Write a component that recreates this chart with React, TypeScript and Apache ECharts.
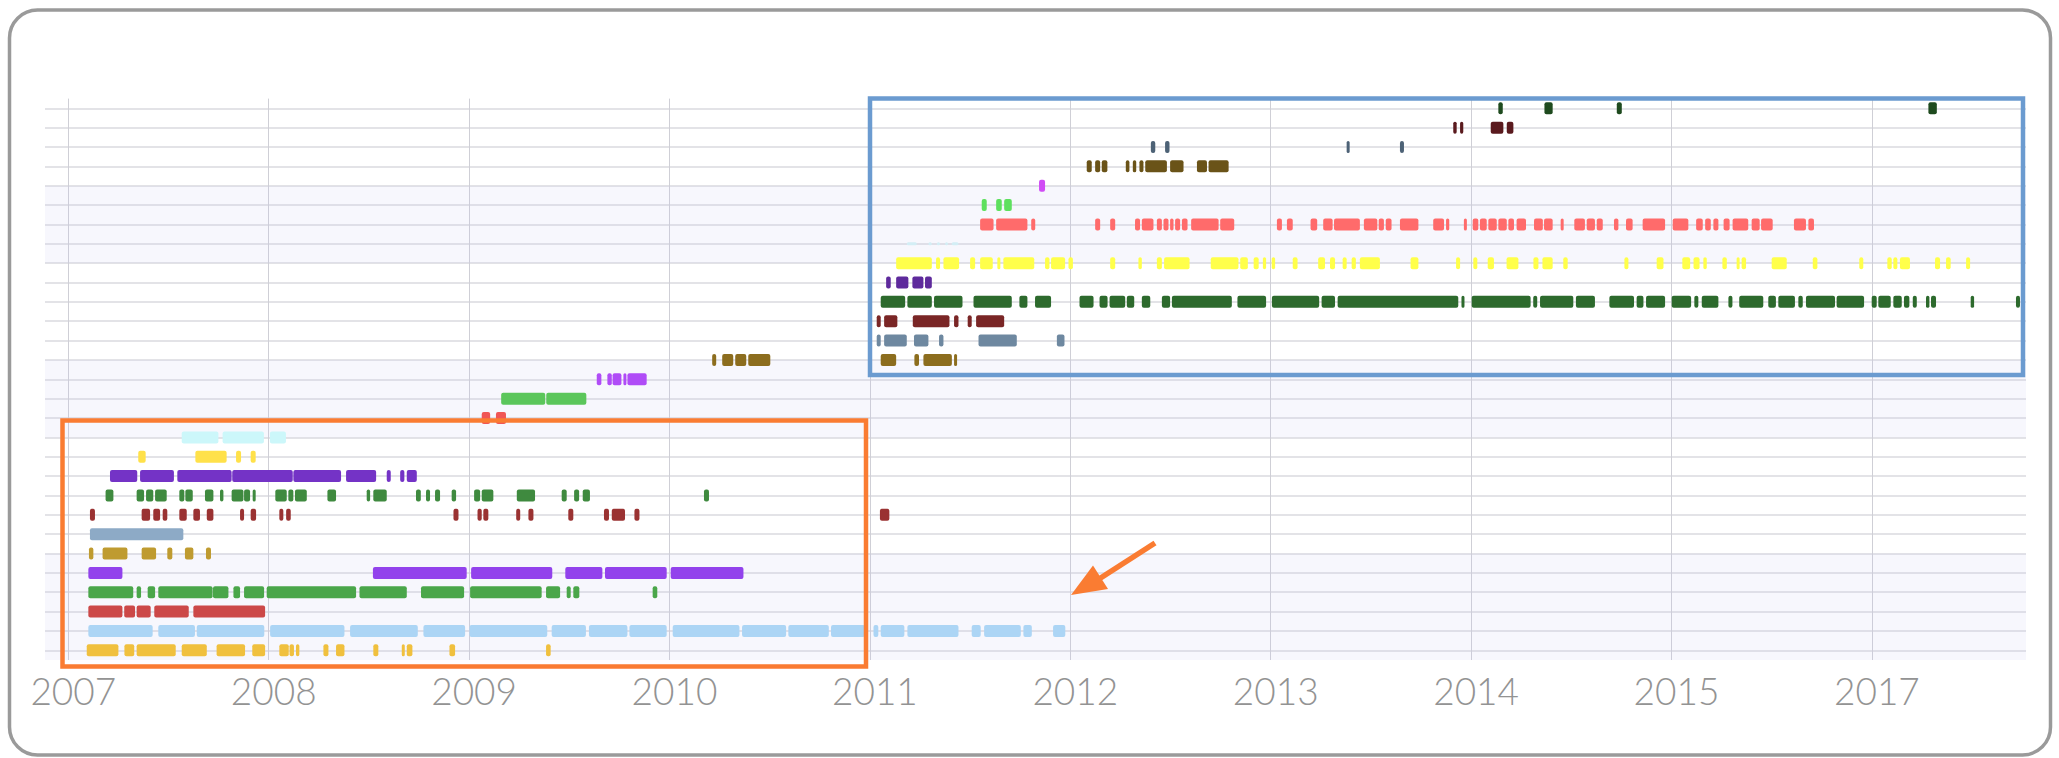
import React, { useEffect, useRef } from "react";
import * as echarts from "echarts";

// ---- axis ----
const tickYears = [2007, 2008, 2009, 2010, 2011, 2012, 2013, 2014, 2015, 2016];
const tickLabels = ["2007", "2008", "2009", "2010", "2011", "2012", "2013", "2014", "2015", "2017"];
const rowIndex = Array.from({ length: 29 }, (_, i) => i);

// ---- row colours (row 0 = top) ----
const rowColors = [
  "#1e4a1e", "#5a1a1e", "#4d6276", "#6a5318", "#d04cf5", "#5ee05e", "#ff6b6b", "#d3eef5",
  "#ffff4a", "#5e2a9c", "#2d6a2d", "#7a2626", "#6e88a0", "#8c6d1e", "#b04cf7", "#5bc65b",
  "#f05656", "#ccf7fa", "#ffe14a", "#7433c6", "#3f8a3f", "#9a3232", "#8daac6", "#bf9b30",
  "#9242ec", "#4aa64a", "#cc4848", "#acd5f5", "#f0c03e",
];

// ---- activity segments [start, end] in years, one list per row ----
const row00 = [[2014.136, 2014.158], [2014.366, 2014.407], [2014.727, 2014.752], [2016.282, 2016.324]];
const row01 = [[2013.911, 2013.928], [2013.945, 2013.961], [2014.098, 2014.161], [2014.178, 2014.211]];
const row02 = [[2012.402, 2012.424], [2012.473, 2012.495], [2013.379, 2013.391], [2013.645, 2013.665]];
const row03 = [[2012.082, 2012.107], [2012.124, 2012.149], [2012.157, 2012.185], [2012.277, 2012.295], [2012.312, 2012.329], [2012.345, 2012.365], [2012.374, 2012.482], [2012.498, 2012.565], [2012.632, 2012.682], [2012.69, 2012.79]];
const row04 = [[2011.844, 2011.874]];
const row05 = [[2011.558, 2011.583], [2011.63, 2011.658], [2011.67, 2011.708]];
const row06 = [
  [2011.55, 2011.617], [2011.63, 2011.786], [2011.805, 2011.825], [2012.124, 2012.149], [2012.199, 2012.224],
  [2012.323, 2012.348], [2012.357, 2012.415], [2012.432, 2012.457], [2012.465, 2012.49], [2012.498, 2012.515],
  [2012.523, 2012.548], [2012.557, 2012.585], [2012.603, 2012.74], [2012.748, 2012.818], [2013.031, 2013.056],
  [2013.081, 2013.11], [2013.199, 2013.232], [2013.262, 2013.309], [2013.316, 2013.445], [2013.465, 2013.532],
  [2013.539, 2013.565], [2013.574, 2013.603], [2013.645, 2013.737], [2013.811, 2013.865], [2013.875, 2013.891],
  [2013.964, 2013.978], [2014.008, 2014.036], [2014.044, 2014.078], [2014.086, 2014.128], [2014.136, 2014.178],
  [2014.186, 2014.214], [2014.227, 2014.274], [2014.314, 2014.358], [2014.364, 2014.407], [2014.447, 2014.46],
  [2014.515, 2014.568], [2014.577, 2014.618], [2014.627, 2014.657], [2014.713, 2014.735], [2014.773, 2014.806],
  [2014.856, 2014.968], [2015.006, 2015.084], [2015.123, 2015.156], [2015.168, 2015.196], [2015.209, 2015.234],
  [2015.26, 2015.29], [2015.305, 2015.383], [2015.4, 2015.44], [2015.447, 2015.505], [2015.611, 2015.671],
  [2015.683, 2015.711],
];
const row07 = [[2011.184, 2011.234], [2011.292, 2011.309], [2011.334, 2011.35], [2011.375, 2011.387], [2011.408, 2011.442]];
const row08 = [
  [2011.131, 2011.309], [2011.33, 2011.35], [2011.367, 2011.445], [2011.5, 2011.525], [2011.55, 2011.613],
  [2011.636, 2011.65], [2011.666, 2011.82], [2011.874, 2011.896], [2011.904, 2011.974], [2011.991, 2012.013],
  [2012.199, 2012.224], [2012.34, 2012.357], [2012.432, 2012.457], [2012.468, 2012.595], [2012.701, 2012.839],
  [2012.848, 2012.886], [2012.915, 2012.94], [2012.961, 2012.977], [2013.005, 2013.022], [2013.11, 2013.134],
  [2013.237, 2013.271], [2013.296, 2013.321], [2013.359, 2013.379], [2013.404, 2013.425], [2013.445, 2013.545],
  [2013.698, 2013.737], [2013.925, 2013.945], [2014.011, 2014.031], [2014.083, 2014.114], [2014.177, 2014.236],
  [2014.311, 2014.336], [2014.356, 2014.407], [2014.46, 2014.482], [2014.765, 2014.785], [2014.926, 2014.96],
  [2015.054, 2015.093], [2015.11, 2015.14], [2015.159, 2015.176], [2015.254, 2015.276], [2015.325, 2015.338],
  [2015.35, 2015.372], [2015.5, 2015.575], [2015.705, 2015.728], [2015.937, 2015.957], [2016.077, 2016.099],
  [2016.107, 2016.127], [2016.14, 2016.19], [2016.315, 2016.34], [2016.37, 2016.393], [2016.47, 2016.49],
];
const row09 = [[2011.081, 2011.104], [2011.131, 2011.192], [2011.212, 2011.267], [2011.275, 2011.309]];
const row10 = [
  [2011.054, 2011.176], [2011.187, 2011.309], [2011.32, 2011.462], [2011.517, 2011.708], [2011.746, 2011.786],
  [2011.824, 2011.904], [2012.046, 2012.116], [2012.146, 2012.186], [2012.196, 2012.274], [2012.282, 2012.319],
  [2012.357, 2012.399], [2012.457, 2012.498], [2012.507, 2012.806], [2012.834, 2012.977], [2013.006, 2013.242],
  [2013.254, 2013.321], [2013.334, 2013.936], [2013.952, 2013.961], [2014.003, 2014.297], [2014.31, 2014.33],
  [2014.344, 2014.51], [2014.523, 2014.618], [2014.69, 2014.813], [2014.826, 2014.86], [2014.873, 2014.968],
  [2015.001, 2015.098], [2015.114, 2015.134], [2015.151, 2015.234], [2015.284, 2015.304], [2015.338, 2015.458],
  [2015.483, 2015.521], [2015.533, 2015.616], [2015.633, 2015.655], [2015.671, 2015.816], [2015.824, 2015.961],
  [2015.999, 2016.024], [2016.032, 2016.094], [2016.107, 2016.149], [2016.16, 2016.187], [2016.204, 2016.224],
  [2016.27, 2016.287], [2016.295, 2016.32], [2016.493, 2016.51], [2016.719, 2016.739],
];
const row11 = [[2011.034, 2011.054], [2011.071, 2011.137], [2011.214, 2011.397], [2011.42, 2011.442], [2011.488, 2011.508], [2011.53, 2011.67]];
const row12 = [[2011.034, 2011.054], [2011.071, 2011.184], [2011.22, 2011.292], [2011.345, 2011.367], [2011.542, 2011.733], [2011.933, 2011.971]];
const row13 = [[2010.213, 2010.233], [2010.263, 2010.318], [2010.328, 2010.383], [2010.393, 2010.503], [2011.054, 2011.131], [2011.222, 2011.245], [2011.267, 2011.409], [2011.42, 2011.434]];
const row14 = [[2009.637, 2009.66], [2009.69, 2009.712], [2009.716, 2009.76], [2009.77, 2009.785], [2009.79, 2009.886]];
const row15 = [[2009.16, 2009.38], [2009.385, 2009.585]];
const row16 = [[2009.063, 2009.105], [2009.134, 2009.184]];
const row17 = [[2007.566, 2007.749], [2007.77, 2007.976], [2008.006, 2008.086]];
const row18 = [[2007.349, 2007.386], [2007.634, 2007.79], [2007.837, 2007.862], [2007.91, 2007.935]];
const row19 = [[2007.208, 2007.344], [2007.358, 2007.527], [2007.544, 2007.815], [2007.818, 2008.12], [2008.123, 2008.361], [2008.386, 2008.536], [2008.589, 2008.609], [2008.656, 2008.677], [2008.689, 2008.739]];
const row20 = [
  [2007.186, 2007.225], [2007.341, 2007.378], [2007.388, 2007.424], [2007.433, 2007.491], [2007.554, 2007.579],
  [2007.584, 2007.621], [2007.682, 2007.724], [2007.757, 2007.774], [2007.815, 2007.874], [2007.877, 2007.907],
  [2007.92, 2007.935], [2008.033, 2008.09], [2008.098, 2008.123], [2008.131, 2008.19], [2008.293, 2008.336],
  [2008.489, 2008.506], [2008.522, 2008.589], [2008.735, 2008.759], [2008.785, 2008.805], [2008.83, 2008.855],
  [2008.913, 2008.935], [2009.025, 2009.055], [2009.063, 2009.121], [2009.238, 2009.329], [2009.462, 2009.487],
  [2009.524, 2009.549], [2009.567, 2009.603], [2010.172, 2010.197],
];
const row21 = [
  [2007.108, 2007.133], [2007.366, 2007.408], [2007.424, 2007.458], [2007.471, 2007.494], [2007.554, 2007.591],
  [2007.624, 2007.657], [2007.691, 2007.724], [2007.857, 2007.877], [2007.91, 2007.937], [2008.053, 2008.073],
  [2008.087, 2008.11], [2008.922, 2008.947], [2009.042, 2009.063], [2009.071, 2009.096], [2009.235, 2009.255],
  [2009.296, 2009.321], [2009.495, 2009.52], [2009.673, 2009.698], [2009.712, 2009.778], [2009.825, 2009.85],
  [2011.05, 2011.097],
];
const row22 = [[2007.108, 2007.574]];
const row23 = [[2007.103, 2007.125], [2007.171, 2007.295], [2007.366, 2007.438], [2007.494, 2007.519], [2007.582, 2007.624], [2007.687, 2007.712]];
const row24 = [[2007.1, 2007.27], [2008.52, 2008.988], [2009.01, 2009.415], [2009.48, 2009.665], [2009.678, 2009.986], [2010.006, 2010.369]];
const row25 = [
  [2007.1, 2007.324], [2007.341, 2007.363], [2007.396, 2007.433], [2007.449, 2007.72], [2007.722, 2007.799],
  [2007.824, 2007.857], [2007.877, 2007.977], [2007.99, 2008.436], [2008.453, 2008.689], [2008.76, 2008.975],
  [2009.005, 2009.362], [2009.384, 2009.454], [2009.487, 2009.507], [2009.52, 2009.55], [2009.916, 2009.939],
];
const row26 = [[2007.1, 2007.27], [2007.279, 2007.333], [2007.341, 2007.411], [2007.429, 2007.601], [2007.624, 2007.982]];
const row27 = [
  [2007.1, 2007.421], [2007.449, 2007.632], [2007.641, 2007.978], [2008.007, 2008.378], [2008.406, 2008.744],
  [2008.772, 2008.98], [2009.002, 2009.39], [2009.412, 2009.583], [2009.598, 2009.79], [2009.8, 2009.986],
  [2010.016, 2010.349], [2010.362, 2010.582], [2010.593, 2010.795], [2010.806, 2010.976], [2011.018, 2011.042],
  [2011.054, 2011.172], [2011.187, 2011.442], [2011.508, 2011.553], [2011.57, 2011.753], [2011.766, 2011.808],
  [2011.914, 2011.975],
];
const row28 = [
  [2007.092, 2007.25], [2007.28, 2007.329], [2007.341, 2007.536], [2007.566, 2007.691], [2007.74, 2007.882],
  [2007.918, 2007.982], [2008.053, 2008.1], [2008.104, 2008.126], [2008.136, 2008.153], [2008.273, 2008.298],
  [2008.336, 2008.378], [2008.522, 2008.547], [2008.664, 2008.676], [2008.689, 2008.717], [2008.902, 2008.93],
  [2009.384, 2009.407],
];

const rows = [
  row00, row01, row02, row03, row04, row05, row06, row07, row08, row09, row10, row11, row12, row13, row14,
  row15, row16, row17, row18, row19, row20, row21, row22, row23, row24, row25, row26, row27, row28,
];

// tinted background bands (row index ranges)
const bands = [[4, 8], [13, 17], [23, 28.5]];

export default function App() {
  const ref = useRef<HTMLDivElement>(null);
  useEffect(() => {
    if (!ref.current) return;
    const chart = echarts.init(ref.current, null, { renderer: "svg" });
    const data: number[][] = [];
    rows.forEach((segs, r) => segs.forEach(([s, e]) => data.push([s, e, r])));

    chart.setOption({
      animation: false,
      backgroundColor: "#ffffff",
      grid: { left: 45, right: 33, top: 98.6, bottom: 98 },
      xAxis: {
        type: "value",
        min: 2006.8837,
        max: 2016.769,
        axisLine: { show: false },
        axisTick: { show: false, customValues: tickYears },
        splitLine: { show: true, lineStyle: { color: "#cfcfd6", width: 1 } },
        axisLabel: {
          customValues: tickYears,
          formatter: (v: number) => tickLabels[tickYears.indexOf(Math.round(v))] ?? "",
          color: "#939393",
          fontSize: 37,
          fontFamily: "Lato, 'Liberation Sans', sans-serif",
          fontWeight: 300,
          margin: 12,
          padding: [0, 0, 0, 10],
        },
      },
      yAxis: {
        type: "value",
        inverse: true,
        min: -0.5,
        max: 28.5,
        axisLine: { show: false },
        axisTick: { show: false, customValues: rowIndex },
        axisLabel: { show: false, customValues: rowIndex },
        splitLine: { show: true, lineStyle: { color: "#dadadf", width: 1.5 } },
      },
      series: [
        {
          type: "custom",
          z: 5,
          data,
          encode: { x: [0, 1], y: 2 },
          renderItem: (params: any, api: any) => {
            const s = api.value(0);
            const e = api.value(1);
            const r = api.value(2);
            const p0 = api.coord([s, r]);
            const p1 = api.coord([e, r]);
            const h = r === 7 ? 3 : 12;
            return {
              type: "rect",
              shape: { x: p0[0], y: p0[1] - h / 2, width: Math.max(p1[0] - p0[0], 3), height: h, r: 2 },
              style: { fill: rowColors[r] },
            };
          },
          markArea: {
            silent: true,
            itemStyle: { color: "rgba(200,200,240,0.14)" },
            data: bands.map(([a, b]) => [{ yAxis: a }, { yAxis: b }]),
          },
        },
      ],
      graphic: [
        {
          type: "rect",
          z: 100,
          shape: { x: 9.5, y: 10, width: 2041, height: 745, r: 28 },
          style: { fill: "none", stroke: "#9a9a9a", lineWidth: 3.5 },
        },
        {
          type: "rect",
          z: 100,
          shape: { x: 62.5, y: 420.5, width: 803.5, height: 246 },
          style: { fill: "none", stroke: "#fa7c32", lineWidth: 4.5 },
        },
        {
          type: "rect",
          z: 100,
          shape: { x: 870, y: 98.5, width: 1153, height: 276.5 },
          style: { fill: "none", stroke: "#6b9bd0", lineWidth: 4.5 },
        },
        {
          type: "line",
          z: 100,
          shape: { x1: 1155, y1: 543, x2: 1099, y2: 579 },
          style: { stroke: "#fa7c32", lineWidth: 5.5 },
        },
        {
          type: "polygon",
          z: 100,
          shape: { points: [[1071, 595], [1093, 565.5], [1108, 589]] },
          style: { fill: "#fa7c32" },
        },
      ],
    });
    return () => chart.dispose();
  }, []);
  return (
    <div
      ref={ref}
      style={{ position: "fixed", left: 0, top: 0, width: 2059, height: 758 }}
    />
  );
}
